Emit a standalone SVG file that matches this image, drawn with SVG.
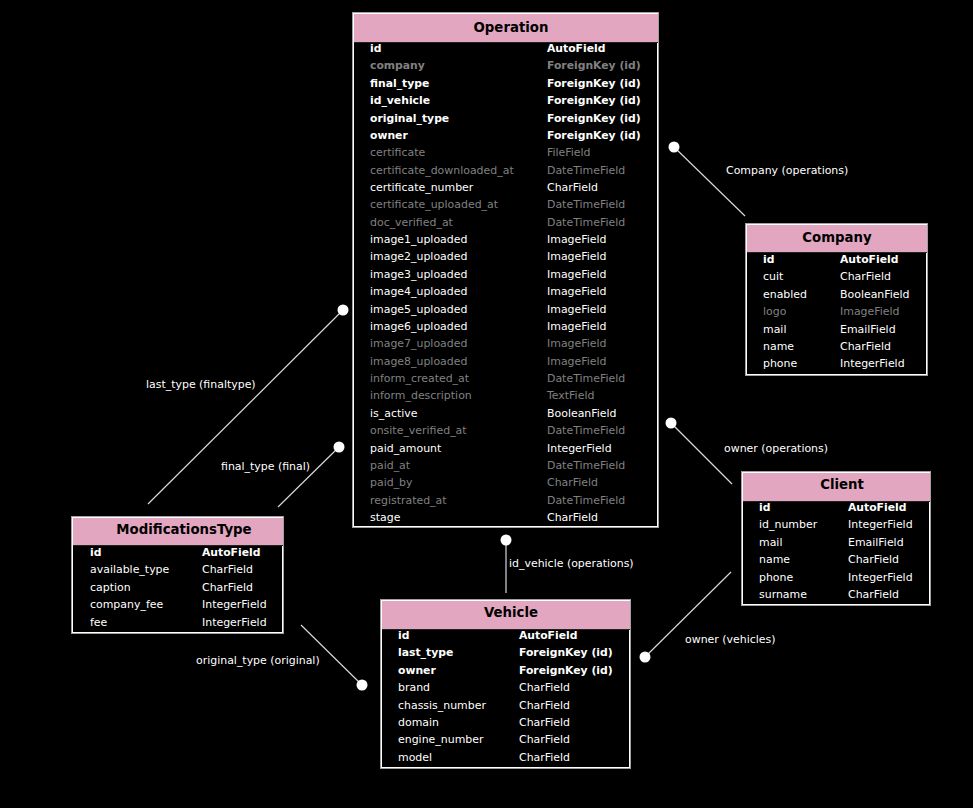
<svg xmlns="http://www.w3.org/2000/svg" width="973" height="808" viewBox="0 0 973 808">
<style>
text{font-family:"DejaVu Sans",sans-serif;font-size:10.95px;fill:#fff}
.t{font-weight:bold;font-size:13.3px;fill:#000;text-anchor:middle}
.b{font-weight:bold;font-size:10.8px}
.g{fill:#808080}
.ob{fill:none;stroke:#a0a0a0;stroke-width:1}
.ib{fill:none;stroke:#fff;stroke-width:1}
.hd{fill:#e3a6c0}
.hl{stroke:#222;stroke-width:1}
.ln{stroke:#d8d8d8;stroke-width:1.2;fill:none}
.dot{fill:#fff}
.lb{fill:#fff}
</style>
<rect width="973" height="808" fill="#000"/>
<g id="connectors">
<line class="ln" x1="674" y1="147" x2="745" y2="216"/><circle class="dot" cx="674" cy="147" r="5.5"/>
<text class="lb" x="726" y="174">Company (operations)</text>
<line class="ln" x1="343" y1="310" x2="148" y2="504"/><circle class="dot" cx="343" cy="310" r="5.5"/>
<text class="lb" x="146" y="388">last_type (finaltype)</text>
<line class="ln" x1="339" y1="447" x2="278" y2="507"/><circle class="dot" cx="339" cy="447" r="5.5"/>
<text class="lb" x="221" y="470">final_type (final)</text>
<line class="ln" x1="671" y1="423" x2="732" y2="484"/><circle class="dot" cx="671" cy="423" r="5.5"/>
<text class="lb" x="724" y="452">owner (operations)</text>
<line class="ln" x1="506" y1="540" x2="506" y2="593"/><circle class="dot" cx="506" cy="540" r="5.5"/>
<text class="lb" x="509" y="567">id_vehicle (operations)</text>
<line class="ln" x1="645" y1="657" x2="731" y2="572"/><circle class="dot" cx="645" cy="657" r="5.5"/>
<text class="lb" x="685" y="643">owner (vehicles)</text>
<line class="ln" x1="362" y1="685" x2="301" y2="625"/><circle class="dot" cx="362" cy="685" r="5.5"/>
<text class="lb" x="196" y="664">original_type (original)</text>
</g>
<g id="Operation">
<rect class="ob" x="352.5" y="12.5" width="306" height="515"/>
<rect class="ib" x="353.5" y="13.5" width="304" height="513"/>
<rect class="hd" x="354" y="14" width="304" height="28"/>
<line class="hl" x1="354" y1="42.5" x2="658" y2="42.5"/>
<text class="t" x="511" y="32">Operation</text>
<g>
<text class="b" x="370" y="52">id</text><text class="b" x="547" y="52">AutoField</text>
<text class="b g" x="370" y="69.4">company</text><text class="b g" x="547" y="69.4">ForeignKey (id)</text>
<text class="b" x="370" y="86.7">final_type</text><text class="b" x="547" y="86.7">ForeignKey (id)</text>
<text class="b" x="370" y="104.1">id_vehicle</text><text class="b" x="547" y="104.1">ForeignKey (id)</text>
<text class="b" x="370" y="121.5">original_type</text><text class="b" x="547" y="121.5">ForeignKey (id)</text>
<text class="b" x="370" y="138.9">owner</text><text class="b" x="547" y="138.9">ForeignKey (id)</text>
<text class="g" x="370" y="156.2">certificate</text><text class="g" x="547" y="156.2">FileField</text>
<text class="g" x="370" y="173.6">certificate_downloaded_at</text><text class="g" x="547" y="173.6">DateTimeField</text>
<text x="370" y="191">certificate_number</text><text x="547" y="191">CharField</text>
<text class="g" x="370" y="208.3">certificate_uploaded_at</text><text class="g" x="547" y="208.3">DateTimeField</text>
<text class="g" x="370" y="225.7">doc_verified_at</text><text class="g" x="547" y="225.7">DateTimeField</text>
<text x="370" y="243.1">image1_uploaded</text><text x="547" y="243.1">ImageField</text>
<text x="370" y="260.4">image2_uploaded</text><text x="547" y="260.4">ImageField</text>
<text x="370" y="277.8">image3_uploaded</text><text x="547" y="277.8">ImageField</text>
<text x="370" y="295.2">image4_uploaded</text><text x="547" y="295.2">ImageField</text>
<text x="370" y="312.6">image5_uploaded</text><text x="547" y="312.6">ImageField</text>
<text x="370" y="329.9">image6_uploaded</text><text x="547" y="329.9">ImageField</text>
<text class="g" x="370" y="347.3">image7_uploaded</text><text class="g" x="547" y="347.3">ImageField</text>
<text class="g" x="370" y="364.7">image8_uploaded</text><text class="g" x="547" y="364.7">ImageField</text>
<text class="g" x="370" y="382">inform_created_at</text><text class="g" x="547" y="382">DateTimeField</text>
<text class="g" x="370" y="399.4">inform_description</text><text class="g" x="547" y="399.4">TextField</text>
<text x="370" y="416.8">is_active</text><text x="547" y="416.8">BooleanField</text>
<text class="g" x="370" y="434.1">onsite_verified_at</text><text class="g" x="547" y="434.1">DateTimeField</text>
<text x="370" y="451.5">paid_amount</text><text x="547" y="451.5">IntegerField</text>
<text class="g" x="370" y="468.9">paid_at</text><text class="g" x="547" y="468.9">DateTimeField</text>
<text class="g" x="370" y="486.3">paid_by</text><text class="g" x="547" y="486.3">CharField</text>
<text class="g" x="370" y="503.6">registrated_at</text><text class="g" x="547" y="503.6">DateTimeField</text>
<text x="370" y="521">stage</text><text x="547" y="521">CharField</text>
</g>
</g>
<g id="Company">
<rect class="ob" x="745.5" y="223.5" width="182" height="152"/>
<rect class="ib" x="746.5" y="224.5" width="180" height="150"/>
<rect class="hd" x="747" y="225" width="180" height="27"/>
<line class="hl" x1="747" y1="252.5" x2="927" y2="252.5"/>
<text class="t" x="837" y="242">Company</text>
<text class="b" x="763" y="263">id</text><text class="b" x="840" y="263">AutoField</text>
<text x="763" y="280.4">cuit</text><text x="840" y="280.4">CharField</text>
<text x="763" y="297.8">enabled</text><text x="840" y="297.8">BooleanField</text>
<text class="g" x="763" y="315.1">logo</text><text class="g" x="840" y="315.1">ImageField</text>
<text x="763" y="332.5">mail</text><text x="840" y="332.5">EmailField</text>
<text x="763" y="349.9">name</text><text x="840" y="349.9">CharField</text>
<text x="763" y="367.2">phone</text><text x="840" y="367.2">IntegerField</text>
</g>
<g id="Client">
<rect class="ob" x="741.5" y="471.5" width="189" height="134"/>
<rect class="ib" x="742.5" y="472.5" width="187" height="132"/>
<rect class="hd" x="743" y="473" width="187" height="28"/>
<line class="hl" x1="743" y1="501.5" x2="930" y2="501.5"/>
<text class="t" x="842" y="489">Client</text>
<text class="b" x="759" y="511">id</text><text class="b" x="848" y="511">AutoField</text>
<text x="759" y="528.4">id_number</text><text x="848" y="528.4">IntegerField</text>
<text x="759" y="545.8">mail</text><text x="848" y="545.8">EmailField</text>
<text x="759" y="563.1">name</text><text x="848" y="563.1">CharField</text>
<text x="759" y="580.5">phone</text><text x="848" y="580.5">IntegerField</text>
<text x="759" y="597.9">surname</text><text x="848" y="597.9">CharField</text>
</g>
<g id="ModificationsType">
<rect class="ob" x="71.5" y="516.5" width="212" height="117"/>
<rect class="ib" x="72.5" y="517.5" width="210" height="115"/>
<rect class="hd" x="73" y="518" width="210" height="27"/>
<line class="hl" x1="73" y1="545.5" x2="283" y2="545.5"/>
<text class="t" x="184" y="534">ModificationsType</text>
<text class="b" x="90" y="556">id</text><text class="b" x="202" y="556">AutoField</text>
<text x="90" y="573.4">available_type</text><text x="202" y="573.4">CharField</text>
<text x="90" y="590.8">caption</text><text x="202" y="590.8">CharField</text>
<text x="90" y="608.1">company_fee</text><text x="202" y="608.1">IntegerField</text>
<text x="90" y="625.5">fee</text><text x="202" y="625.5">IntegerField</text>
</g>
<g id="Vehicle">
<rect class="ob" x="380.5" y="599.5" width="250" height="169"/>
<rect class="ib" x="381.5" y="600.5" width="248" height="167"/>
<rect class="hd" x="382" y="601" width="248" height="28"/>
<line class="hl" x1="382" y1="629.5" x2="630" y2="629.5"/>
<text class="t" x="511" y="617">Vehicle</text>
<text class="b" x="398" y="639">id</text><text class="b" x="519" y="639">AutoField</text>
<text class="b" x="398" y="656.4">last_type</text><text class="b" x="519" y="656.4">ForeignKey (id)</text>
<text class="b" x="398" y="673.8">owner</text><text class="b" x="519" y="673.8">ForeignKey (id)</text>
<text x="398" y="691.1">brand</text><text x="519" y="691.1">CharField</text>
<text x="398" y="708.5">chassis_number</text><text x="519" y="708.5">CharField</text>
<text x="398" y="725.9">domain</text><text x="519" y="725.9">CharField</text>
<text x="398" y="743.2">engine_number</text><text x="519" y="743.2">CharField</text>
<text x="398" y="760.6">model</text><text x="519" y="760.6">CharField</text>
</g>
</svg>
